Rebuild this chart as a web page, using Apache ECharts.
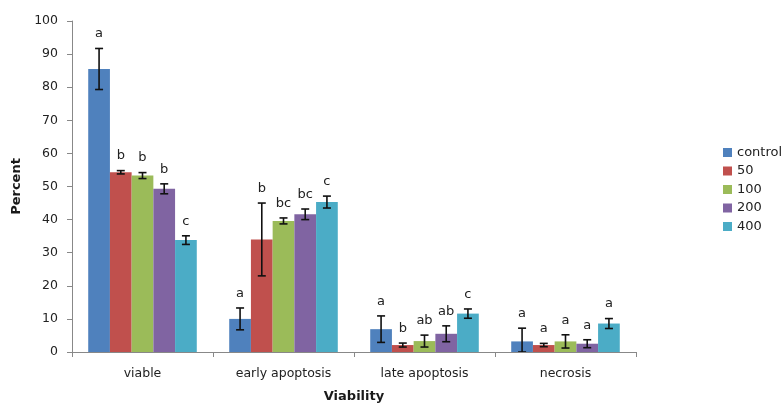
<!DOCTYPE html>
<html>
<head>
<meta charset="utf-8">
<script src="https://cdn.jsdelivr.net/npm/echarts@6/dist/echarts.min.js"></script>
<style>
  html, body { margin: 0; padding: 0; background: #fff; }
  #chart { width: 784px; height: 403px; }
</style>
</head>
<body>
<div id="chart"></div>
<script>
// Cell viability categories and treatment groups
const categories = ['viable', 'early apoptosis', 'late apoptosis', 'necrosis'];
const groups = ['control', '50', '100', '200', '400'];
const colors = ['#4F81BD', '#C0504D', '#9BBB59', '#8064A2', '#4BACC6'];

// Mean percent per group (one array per treatment, in category order)
const control = [85.5, 10.0, 6.9, 3.2];
const dose50  = [54.3, 34.0, 2.1, 2.1];
const dose100 = [53.3, 39.6, 3.3, 3.2];
const dose200 = [49.3, 41.6, 5.5, 2.5];
const dose400 = [33.8, 45.3, 11.6, 8.6];

// Standard deviations
const sdControl = [6.2, 3.3, 4.0, 4.0];
const sd50      = [0.5, 11.0, 0.6, 0.5];
const sd100     = [0.9, 0.9, 1.8, 2.0];
const sd200     = [1.5, 1.6, 2.4, 1.2];
const sd400     = [1.3, 1.8, 1.4, 1.5];

// Significance letters
const letControl = ['a', 'a', 'a', 'a'];
const let50      = ['b', 'b', 'b', 'a'];
const let100     = ['b', 'bc', 'ab', 'a'];
const let200     = ['b', 'bc', 'ab', 'a'];
const let400     = ['c', 'c', 'c', 'a'];

const means = [control, dose50, dose100, dose200, dose400];
const sds = [sdControl, sd50, sd100, sd200, sd400];
const letters = [letControl, let50, let100, let200, let400];

const GAP = 0.23; // fraction of each category left empty
const font = '"DejaVu Sans", "Noto Sans", sans-serif';

const barSeries = groups.map((g, i) => ({
  name: g,
  type: 'bar',
  data: means[i],
  barGap: '0%',
  barCategoryGap: (GAP * 100) + '%',
  itemStyle: { color: colors[i] },
  z: 2
}));

const errorSeries = groups.map((g, i) => ({
  type: 'custom',
  name: g + '-err',
  data: means[i].map((m, c) => [c, m, sds[i][c]]),
  z: 5,
  clip: true,
  silent: true,
  renderItem: function (params, api) {
    const c = api.value(0);
    const m = api.value(1);
    const sd = api.value(2);
    const band = api.size([1, 0])[0];
    const bw = band * (1 - GAP) / groups.length;
    const center = api.coord([c, 0])[0];
    const x = center + (i - (groups.length - 1) / 2) * bw;
    const yTop = api.coord([c, m + sd])[1];
    const yBot = api.coord([c, Math.max(0, m - sd)])[1];
    const cap = 4;
    const st = { stroke: '#111', lineWidth: 1.6 };
    return {
      type: 'group',
      children: [
        { type: 'line', shape: { x1: x, y1: yTop, x2: x, y2: yBot }, style: st },
        { type: 'line', shape: { x1: x - cap, y1: yTop, x2: x + cap, y2: yTop }, style: st },
        { type: 'line', shape: { x1: x - cap, y1: yBot, x2: x + cap, y2: yBot }, style: st },
        {
          type: 'text',
          style: {
            text: letters[i][c],
            x: x,
            y: yTop - 8,
            align: 'center',
            verticalAlign: 'bottom',
            fill: '#222',
            font: '13px ' + font
          }
        }
      ]
    };
  }
}));

const chart = echarts.init(document.getElementById('chart'));
chart.setOption({
  animation: false,
  backgroundColor: '#fff',
  grid: { left: 72, right: 148, top: 21, bottom: 51, outerBoundsMode: 'none', containLabel: false },
  legend: {
    data: groups,
    orient: 'vertical',
    left: 723,
    top: 146,
    padding: 0,
    itemWidth: 9,
    itemHeight: 9,
    itemGap: 5.5,
    icon: 'rect',
    textStyle: { fontFamily: font, fontSize: 13, color: '#222', overflow: 'none' }
  },
  xAxis: {
    type: 'category',
    data: categories,
    name: 'Viability',
    nameLocation: 'middle',
    nameGap: 38,
    nameTextStyle: { fontFamily: font, fontSize: 13, fontWeight: 'bold', color: '#1a1a1a' },
    axisLine: { lineStyle: { color: '#888' } },
    axisTick: { show: true, alignWithLabel: false, length: 5, lineStyle: { color: '#888' } },
    axisLabel: { fontFamily: font, fontSize: 12.5, color: '#222', margin: 15 }
  },
  yAxis: {
    type: 'value',
    min: 0,
    max: 100,
    interval: 10,
    name: 'Percent',
    nameLocation: 'middle',
    nameGap: 48,
    nameTextStyle: { fontFamily: font, fontSize: 13, fontWeight: 'bold', color: '#1a1a1a' },
    axisLine: { show: true, lineStyle: { color: '#888' } },
    axisTick: { show: true, length: 5, lineStyle: { color: '#888' } },
    splitLine: { show: false },
    axisLabel: { fontFamily: font, fontSize: 12.5, color: '#222', margin: 14 }
  },
  series: barSeries.concat(errorSeries)
});
</script>
</body>
</html>
